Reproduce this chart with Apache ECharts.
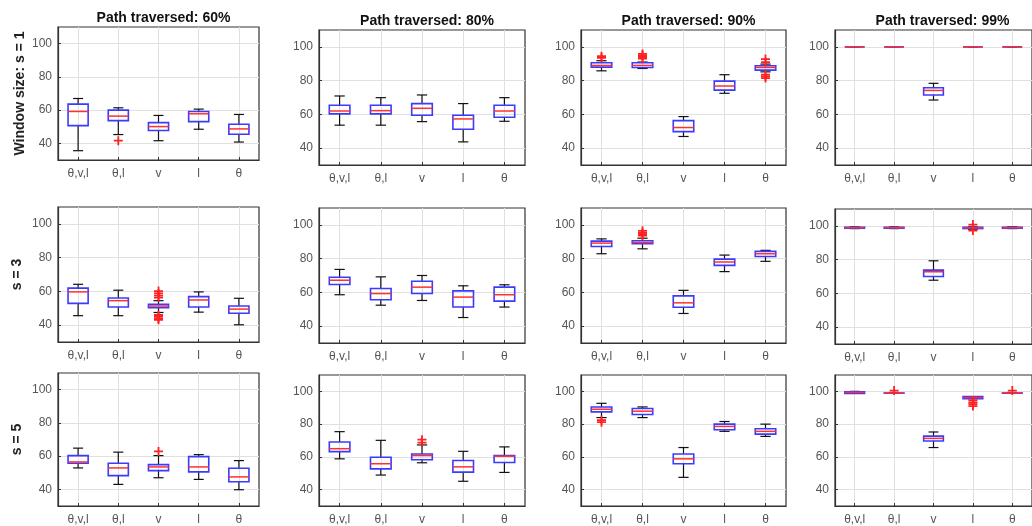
<!DOCTYPE html>
<html><head><meta charset="utf-8">
<script src="https://cdn.jsdelivr.net/npm/echarts@6/dist/echarts.min.js"></script>
<style>html,body{margin:0;padding:0;background:#fff}#c{width:1032px;height:526px}</style>
</head><body><div id="c"></div>
<script>
// ---------- DATA ----------
const categories = ['θ,v,l', 'θ,l', 'v', 'l', 'θ'];
const yTicks = [40, 60, 80, 100];
const xTicks = [1, 2, 3, 4, 5];
const columnTitles = ['Path traversed: 60%', 'Path traversed: 80%', 'Path traversed: 90%', 'Path traversed: 99%'];
const rowLabels = ['Window size: s = 1', 's = 3', 's = 5'];

// box stats per category: [min, q1, median, q3, max]
// outliers: [category number (1..5), value]
const s1_p60 = [[35.6, 50.7, 59.2, 63.6, 67.0], [45.3, 53.7, 56.4, 60.0, 61.4], [41.6, 47.7, 50.1, 52.5, 56.8], [48.5, 53.1, 57.8, 59.2, 60.6], [40.8, 45.5, 48.7, 51.5, 57.4]];
const s1_p60_out = [[2, 41.6]];
const s1_p80 = [[53.6, 60.3, 62.0, 65.4, 70.9], [53.6, 60.3, 62.2, 65.4, 69.9], [55.7, 59.5, 63.6, 66.4, 71.5], [43.7, 51.2, 57.3, 59.5, 66.4], [55.9, 58.3, 62.0, 65.4, 69.9]];
const s1_p80_out = [];
const s1_p90 = [[85.8, 88.0, 89.0, 90.6, 91.8], [87.2, 87.8, 89.0, 90.6, 91.0], [46.9, 49.8, 52.2, 56.3, 58.7], [72.5, 74.4, 76.8, 79.7, 83.5], [85.2, 86.2, 87.8, 88.8, 89.8]];
const s1_p90_out = [[1, 93.5], [1, 94.5], [2, 93.0], [2, 94.0], [2, 95.0], [2, 95.8], [5, 92.8], [5, 91.0], [5, 83.5], [5, 82.5], [5, 81.5]];
const s1_p99 = [[100, 100, 100, 100, 100], [100, 100, 100, 100, 100], [68.5, 71.5, 74.2, 75.8, 78.4], [100, 100, 100, 100, 100], [100, 100, 100, 100, 100]];
const s1_p99_out = [];

const s3_p60 = [[45.6, 52.9, 59.7, 61.9, 64.2], [45.6, 50.7, 54.5, 56.1, 60.7], [47.5, 50.3, 51.3, 52.3, 54.5], [47.7, 50.7, 54.9, 56.9, 59.7], [40.2, 47.0, 49.5, 51.3, 55.9]];
const s3_p60_out = [[3, 60.2], [3, 58.8], [3, 57.5], [3, 56.3], [3, 46.0], [3, 45.0], [3, 44.0], [3, 43.2]];
const s3_p80 = [[58.6, 64.7, 67.2, 69.0, 73.6], [52.4, 55.6, 59.3, 62.3, 69.2], [55.2, 59.3, 63.1, 66.6, 70.0], [45.1, 51.3, 57.2, 60.9, 63.9], [51.3, 54.8, 58.6, 63.1, 64.5]];
const s3_p80_out = [];
const s3_p90 = [[82.9, 87.2, 89.2, 90.4, 91.7], [85.8, 88.8, 89.6, 90.6, 92.1], [47.5, 51.2, 53.8, 57.9, 61.2], [72.3, 76.0, 78.0, 79.7, 82.1], [78.4, 81.3, 82.9, 84.3, 84.9]];
const s3_p90_out = [[2, 93.7], [2, 94.5], [2, 95.3], [2, 96.5]];
const s3_p99 = [[98.4, 98.6, 98.9, 99.2, 99.4], [98.4, 98.6, 98.9, 99.2, 99.4], [67.8, 70.0, 72.8, 73.8, 79.3], [98.0, 98.4, 98.8, 99.2, 99.4], [98.4, 98.6, 98.9, 99.2, 99.4]];
const s3_p99_out = [[4, 100.8], [4, 97.2]];

const s5_p60 = [[52.9, 55.7, 56.5, 60.3, 64.8], [43.0, 48.3, 52.9, 55.7, 62.4], [47.0, 51.3, 53.5, 54.9, 60.3], [46.0, 50.5, 53.5, 59.7, 60.9], [39.8, 44.6, 47.5, 52.7, 57.3]];
const s5_p60_out = [[3, 62.8]];
const s5_p80 = [[58.8, 63.2, 65.0, 69.1, 75.4], [48.9, 52.7, 55.8, 59.8, 70.1], [56.4, 58.2, 60.8, 61.8, 67.3], [45.1, 50.7, 53.9, 57.8, 63.4], [50.5, 56.6, 60.4, 60.8, 66.1]];
const s5_p80_out = [[3, 68.7], [3, 70.5]];
const s5_p90 = [[84.0, 87.5, 89.1, 90.5, 92.7], [84.0, 85.9, 87.9, 89.5, 90.5], [47.5, 55.8, 58.8, 61.8, 65.7], [75.6, 76.6, 78.6, 80.0, 81.6], [72.5, 73.9, 75.6, 77.2, 80.0]];
const s5_p90_out = [[1, 82.4], [1, 81.2]];
const s5_p99 = [[98.8, 98.8, 99.4, 99.8, 100], [98.9, 98.9, 99.0, 99.0, 99.0], [65.7, 69.7, 71.3, 72.7, 75.2], [95.6, 95.6, 96.2, 96.8, 96.8], [98.9, 98.9, 99.0, 99.0, 99.0]];
const s5_p99_out = [[2, 100.5], [4, 94.5], [4, 93.2], [4, 92.2], [4, 91.0], [5, 100.5]];

const panels = [
  [s1_p60, s1_p80, s1_p90, s1_p99],
  [s3_p60, s3_p80, s3_p90, s3_p99],
  [s5_p60, s5_p80, s5_p90, s5_p99]
];
const outliers = [
  [s1_p60_out, s1_p80_out, s1_p90_out, s1_p99_out],
  [s3_p60_out, s3_p80_out, s3_p90_out, s3_p99_out],
  [s5_p60_out, s5_p80_out, s5_p90_out, s5_p99_out]
];

// ---------- LAYOUT ----------
const colLeft = [58, 319, 581, 835];
const colWidth = [201, 206, 205, 205];
const rowTop = [[27, 30, 30, 30], [207, 208, 208, 209], [373, 375, 375, 375]];
const rowHeight = [[133, 135, 135, 135], [135, 135, 135, 135], [135, 135, 135, 135]];
const FONT = "'Liberation Sans', Arial, Helvetica, sans-serif";

function renderBox(params, api) {
  const x = api.value(0);
  const pMin = api.coord([x, api.value(1)]);
  const pQ1 = api.coord([x, api.value(2)]);
  const pMed = api.coord([x, api.value(3)]);
  const pQ3 = api.coord([x, api.value(4)]);
  const pMax = api.coord([x, api.value(5)]);
  const bw = api.size([0.5, 0])[0];
  const cw = api.size([0.25, 0])[0];
  const cx = pMed[0];
  const blk = { stroke: '#111', lineWidth: 1.2 };
  return {
    type: 'group',
    children: [
      { type: 'line', shape: { x1: cx, y1: pMin[1], x2: cx, y2: pQ1[1] }, style: blk },
      { type: 'line', shape: { x1: cx, y1: pQ3[1], x2: cx, y2: pMax[1] }, style: blk },
      { type: 'line', shape: { x1: cx - cw / 2, y1: pMin[1], x2: cx + cw / 2, y2: pMin[1] }, style: blk },
      { type: 'line', shape: { x1: cx - cw / 2, y1: pMax[1], x2: cx + cw / 2, y2: pMax[1] }, style: blk },
      { type: 'rect', shape: { x: cx - bw / 2, y: pQ3[1], width: bw, height: pQ1[1] - pQ3[1] }, style: { fill: 'none', stroke: '#3b3bff', lineWidth: 1.6 } },
      { type: 'line', shape: { x1: cx - bw / 2, y1: pMed[1], x2: cx + bw / 2, y2: pMed[1] }, style: { stroke: '#ff3030', lineWidth: 1.5 } }
    ]
  };
}

const grid = [], xAxis = [], yAxis = [], series = [], title = [];
for (let c = 0; c < 4; c++) {
  title.push({
    text: columnTitles[c],
    left: colLeft[c] + colWidth[c] / 2,
    top: c === 0 ? 6 : 9,
    textAlign: 'center',
    textStyle: { fontFamily: FONT, fontSize: 14, fontWeight: 'bold', color: '#111' }
  });
}
let idx = 0;
for (let r = 0; r < 3; r++) {
  for (let c = 0; c < 4; c++) {
    grid.push({
      left: colLeft[c], top: rowTop[r][c], width: colWidth[c], height: rowHeight[r][c],
      show: true, borderColor: '#333', borderWidth: 1.2, backgroundColor: '#fff'
    });
    xAxis.push({
      type: 'value', gridIndex: idx, min: 0.5, max: 5.5,
      axisLine: { show: true, onZero: false, lineStyle: { color: '#333', width: 1.2 } },
      axisTick: { show: true, inside: true, length: 3, customValues: xTicks, lineStyle: { color: '#333' } },
      axisLabel: { customValues: xTicks, margin: 8, formatter: v => categories[Math.round(v) - 1] || '',
        fontFamily: FONT, fontSize: 12, color: '#555' },
      splitLine: { show: true, lineStyle: { color: '#e0e0e0', width: 1 } }
    });
    const ya = {
      type: 'value', gridIndex: idx, min: 30, max: 110,
      axisLine: { show: true, onZero: false, lineStyle: { color: '#333', width: 1.2 } },
      axisTick: { show: true, inside: true, length: 3, customValues: yTicks, lineStyle: { color: '#333' } },
      axisLabel: { customValues: yTicks, margin: 6, fontFamily: FONT, fontSize: 12, color: '#555' },
      splitLine: { show: true, lineStyle: { color: '#e0e0e0', width: 1 } }
    };
    if (c === 0) {
      ya.name = rowLabels[r];
      ya.nameLocation = 'middle';
      ya.nameRotate = 90;
      ya.nameGap = r === 0 ? 31 : 34;
      ya.nameTextStyle = { fontFamily: FONT, fontSize: 14, fontWeight: 'bold', color: '#222' };
    }
    yAxis.push(ya);
    series.push({
      type: 'custom', xAxisIndex: idx, yAxisIndex: idx,
      renderItem: renderBox,
      dimensions: ['x', 'min', 'q1', 'med', 'q3', 'max'],
      encode: { x: 0, y: [1, 2, 3, 4, 5] },
      data: panels[r][c].map((b, i) => [xTicks[i]].concat(b)),
      silent: true, z: 3
    });
    series.push({
      type: 'scatter', xAxisIndex: idx, yAxisIndex: idx,
      symbol: 'path://M4,0h2v4h4v2h-4v4h-2v-4h-4v-2h4z',
      symbolSize: 9,
      itemStyle: { color: '#ff2020', opacity: 1 },
      data: outliers[r][c],
      silent: true, z: 4
    });
    idx++;
  }
}

const chart = echarts.init(document.getElementById('c'), null, { renderer: 'canvas' });
chart.setOption({ animation: false, backgroundColor: '#fff', title, grid, xAxis, yAxis, series });
</script>
</body></html>
